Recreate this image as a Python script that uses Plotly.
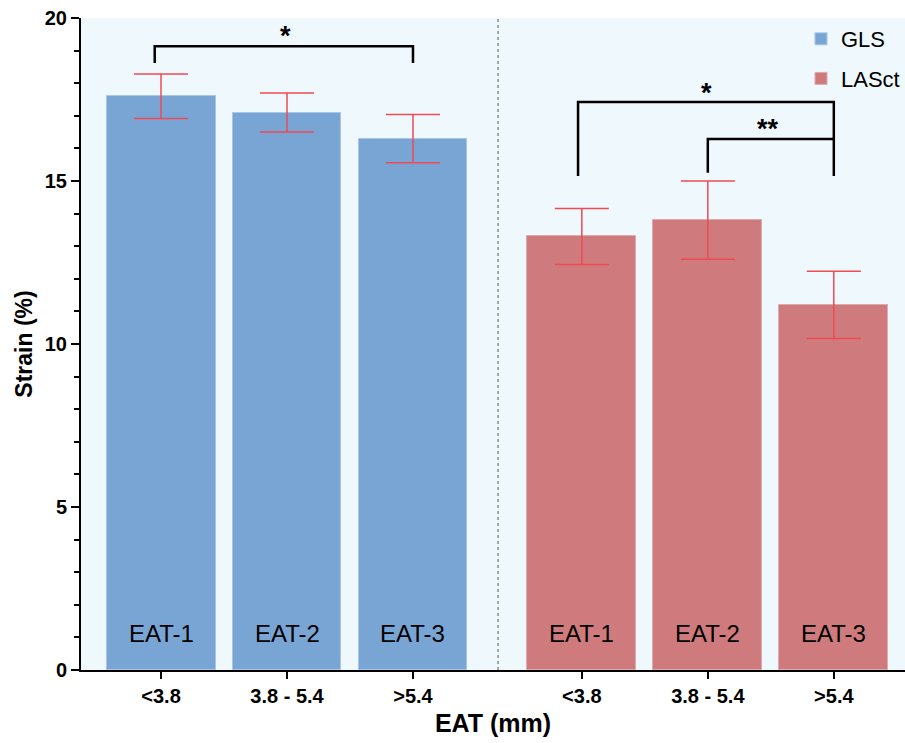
import plotly.graph_objects as go

# ---- data ----
categories = ["<3.8", "3.8 - 5.4", ">5.4"]
group_labels = ["EAT-1", "EAT-2", "EAT-3"]
gls_mean = [17.6, 17.1, 16.3]
gls_err = [0.68, 0.60, 0.74]
lasct_mean = [13.3, 13.8, 11.2]
lasct_err = [0.86, 1.20, 1.03]

# x positions (two groups separated by a gap)
gap = 1.34
x_gls = [0, 1, 2]
x_las = [2 + gap + i for i in range(3)]

BLUE = "#79a5d5"
RED = "#cf7b7d"
ERR = "#ef4a55"
BG = "#eef8fd"
FONT = "Liberation Sans, Arial"

fig = go.Figure()
fig.add_trace(go.Bar(
    x=x_gls, y=gls_mean, name="GLS", width=0.865, legendgroup="g1",
    marker=dict(color=BLUE, line=dict(color="#a9c5e8", width=1)),
    error_y=dict(type="data", array=gls_err, color=ERR, thickness=1.5, width=27),
))
fig.add_trace(go.Bar(
    x=x_las, y=lasct_mean, name="LASct", width=0.865, legendgroup="g2",
    marker=dict(color=RED, line=dict(color="#e0a9ab", width=1)),
    error_y=dict(type="data", array=lasct_err, color=ERR, thickness=1.5, width=27),
))

# labels inside bars
for xs in (x_gls, x_las):
    for xv, lab in zip(xs, group_labels):
        fig.add_annotation(x=xv, y=0, text=lab, showarrow=False, yanchor="bottom",
                           yshift=21, font=dict(size=24, color="black", family=FONT))

# divider
fig.add_shape(type="line", x0=2 + gap / 2 + 0.005, x1=2 + gap / 2 + 0.005, y0=0, y1=20,
              xref="x", yref="y", line=dict(color="#555555", width=1, dash="dot"))

# significance brackets
def bracket(xa, xb, ya, yb, ytop, label, xlabel, ylabel):
    fig.add_shape(type="path", xref="x", yref="y",
                  path=f"M {xa} {ya} L {xa} {ytop} L {xb} {ytop} L {xb} {yb}",
                  line=dict(color="black", width=2.5))
    fig.add_annotation(x=xlabel, y=ylabel, text=f"<b>{label}</b>", showarrow=False,
                       font=dict(size=27, color="black", family=FONT))

bracket(x_gls[0] - 0.05, x_gls[2], 18.62, 18.62, 19.13, "*", (x_gls[0] + x_gls[2]) / 2 - 0.01, 19.45)
bracket(x_las[0] - 0.03, x_las[2], 15.15, 15.15, 17.42, "*", (x_las[0] + x_las[2]) / 2 - 0.01, 17.7)
bracket(x_las[1], x_las[2], 15.25, 16.29, 16.29, "**", (x_las[1] + x_las[2]) / 2 - 0.02, 16.6)

fig.update_layout(
    width=905, height=743,
    margin=dict(l=81, r=0, t=18, b=73, autoexpand=False),
    paper_bgcolor="white", plot_bgcolor=BG,
    font=dict(family=FONT, color="black"),
    showlegend=True, bargap=0,
    legend=dict(x=1, xanchor="right", y=1.0, yanchor="top",
                bgcolor="rgba(0,0,0,0)", font=dict(size=22),
                tracegroupgap=8),
)
fig.update_xaxes(
    range=[-0.635, 5.905], tickvals=x_gls + x_las, ticktext=categories * 2,
    showgrid=False, zeroline=False, showline=True, linecolor="black", linewidth=2,
    ticks="outside", ticklen=7, tickwidth=2, tickcolor="black", automargin=False,
    tickfont=dict(size=20, family=FONT, weight="bold"),
    title=dict(text="<b>EAT (mm)</b>", font=dict(size=25), standoff=8),
)
fig.update_yaxes(
    range=[0, 20], tickvals=[0, 5, 10, 15, 20], showgrid=False, zeroline=False,
    showline=True, linecolor="black", linewidth=2, automargin=False,
    ticks="outside", ticklen=8, tickwidth=2, tickcolor="black",
    minor=dict(dtick=1, ticks="outside", ticklen=5, tickwidth=2, tickcolor="black"),
    tickfont=dict(size=20, family=FONT, weight="bold"),
    title=dict(text="<b>Strain (%)</b>", font=dict(size=23), standoff=6),
)

fig.write_html("out.html", config={"displayModeBar": False},
               post_script="document.body.style.margin='0';")
